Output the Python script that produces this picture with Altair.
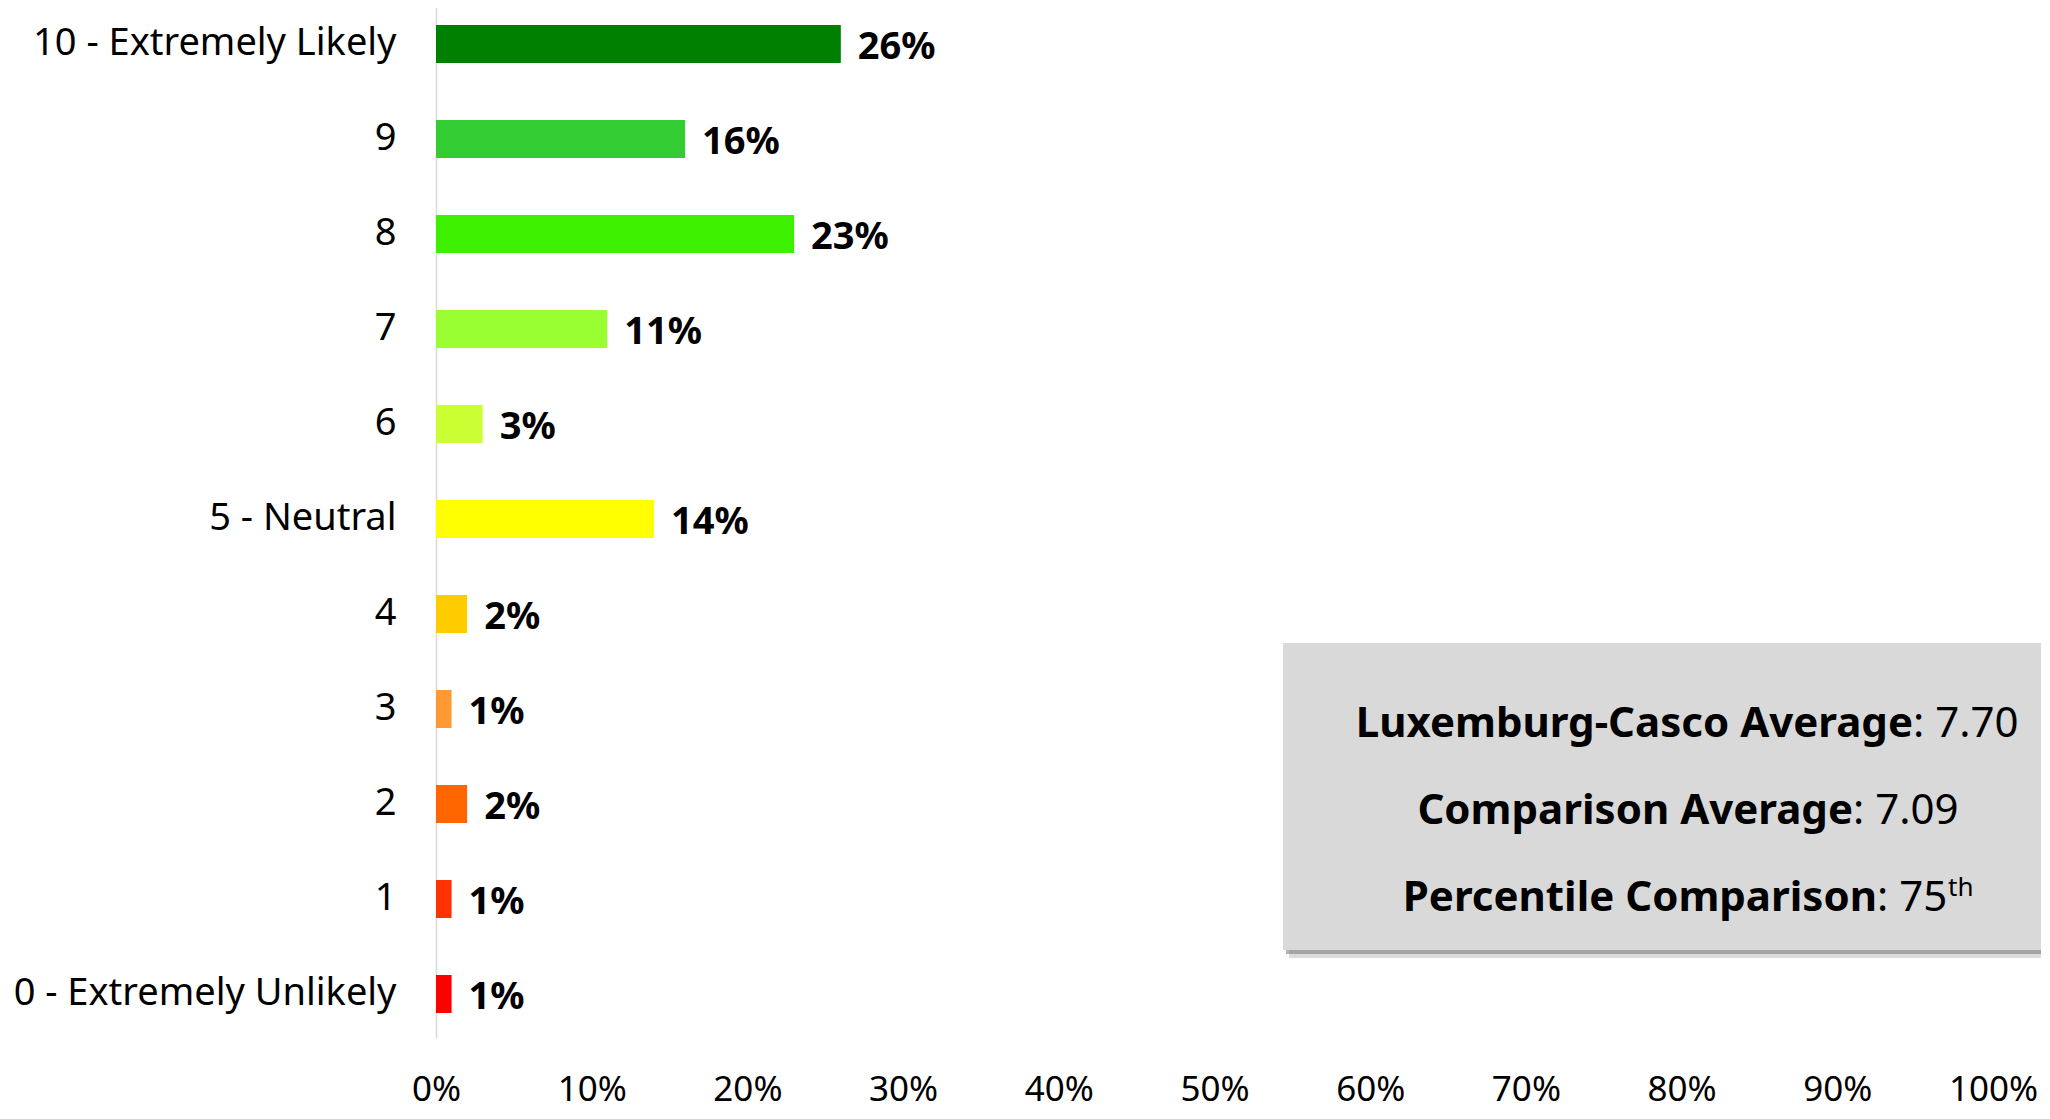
import altair as alt
import pandas as pd

# ---- data ----
categories = ["10 - Extremely Likely", "9", "8", "7", "6", "5 - Neutral",
              "4", "3", "2", "1", "0 - Extremely Unlikely"]
values = [0.26, 0.16, 0.23, 0.11, 0.03, 0.14, 0.02, 0.01, 0.02, 0.01, 0.01]
colors = ["#008000", "#33CC33", "#3CF000", "#99FF33", "#CCFF33", "#FFFF00",
          "#FFCC00", "#FF9933", "#FF6600", "#FF3300", "#FF0000"]
x_ticks = [0.0, 0.1, 0.2, 0.3, 0.4, 0.5, 0.6, 0.7, 0.8, 0.9, 1.0]

summary_names = ["Luxemburg-Casco Average", "Comparison Average", "Percentile Comparison"]
summary_values = [": 7.70", ": 7.09", ": 75"]
summary_suffix = "th"

FONT = "Noto Sans"

df = pd.DataFrame({"cat": categories, "val": values, "color": colors})

y_enc = alt.Y(
    "cat:N", sort=categories,
    scale=alt.Scale(paddingInner=0.6, paddingOuter=0.263),
    axis=alt.Axis(title=None, labelFont=FONT, labelFontSize=38, labelColor="black",
                  labelPadding=40, ticks=False, domainColor="#d9d9d9", domainWidth=1.5,
                  minExtent=428, maxExtent=428, labelLimit=600),
)
x_enc = alt.X(
    "val:Q", scale=alt.Scale(domain=[0, 1], nice=False),
    axis=alt.Axis(title=None, values=x_ticks, format=".0%", grid=False, domain=False,
                  ticks=False, labelFont=FONT, labelFontSize=35, labelColor="black",
                  labelPadding=34, labelFlush=False, labelOverlap=False),
)

bars = alt.Chart(df).mark_bar().encode(
    y=y_enc, x=x_enc, color=alt.Color("color:N", scale=None)
)

labels = alt.Chart(df).mark_text(
    align="left", baseline="middle", dx=17, dy=4, font=FONT, fontSize=38,
    fontWeight="bold", color="black"
).encode(y=alt.Y("cat:N", sort=categories), x="val:Q",
         text=alt.Text("val:Q", format=".0%"))

one = pd.DataFrame({"k": [0]})

# annotation box (pixel placement, relative to plot origin)
box_x, box_x2, box_y, box_y2 = 847, 1605, 643, 950
shadow2 = alt.Chart(one).mark_rect(color="#9a9a9a", opacity=0.35).encode(
    x=alt.value(box_x + 6), x2=alt.value(box_x2),
    y=alt.value(box_y + 8), y2=alt.value(box_y2 + 8))
shadow = alt.Chart(one).mark_rect(color="#808080", opacity=0.6).encode(
    x=alt.value(box_x + 3), x2=alt.value(box_x2),
    y=alt.value(box_y + 4), y2=alt.value(box_y2 + 4))
box = alt.Chart(one).mark_rect(color="#d9d9d9").encode(
    x=alt.value(box_x), x2=alt.value(box_x2),
    y=alt.value(box_y), y2=alt.value(box_y2))

split_x = [1477, 1417, 1441]
baselines = [737, 824, 911]
annots = []
for name, val, sx, by in zip(summary_names, summary_values, split_x, baselines):
    d = pd.DataFrame({"a": [name], "b": [val]})
    annots.append(alt.Chart(d).mark_text(
        align="right", baseline="alphabetic", font=FONT, fontSize=42,
        fontWeight="bold", color="black").encode(
        x=alt.value(sx), y=alt.value(by), text="a:N"))
    annots.append(alt.Chart(d).mark_text(
        align="left", baseline="alphabetic", font=FONT, fontSize=42,
        color="black").encode(
        x=alt.value(sx), y=alt.value(by), text="b:N"))

sup = pd.DataFrame({"s": [summary_suffix]})
annots.append(alt.Chart(sup).mark_text(
    align="left", baseline="alphabetic", font=FONT, fontSize=26,
    color="black").encode(x=alt.value(1512), y=alt.value(896), text="s:N"))

chart = alt.layer(shadow2, shadow, box, bars, labels, *annots).properties(
    width=1557, height=1038,
    padding={"top": -8, "bottom": 3, "left": 0, "right": 0},
).configure_view(stroke=None)

chart.save("out.html", embed_options={"renderer": "svg", "actions": False})
